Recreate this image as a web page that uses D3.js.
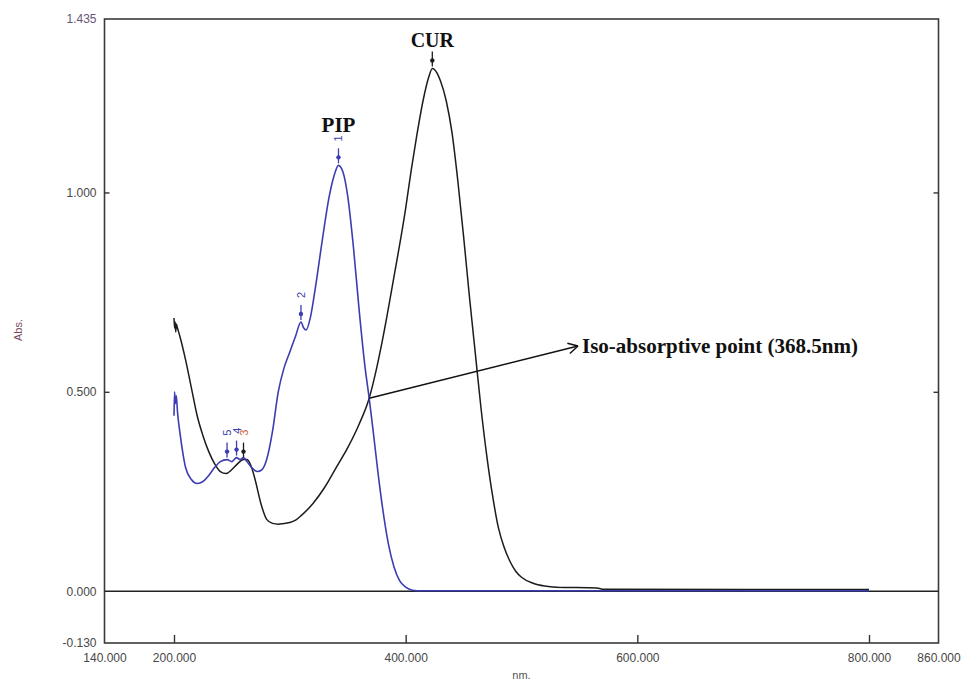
<!DOCTYPE html>
<html>
<head>
<meta charset="utf-8">
<script src="https://cdn.jsdelivr.net/npm/d3@7"></script>
<style>
  body { margin: 0; background: #fff; }
  svg { display: block; }
</style>
</head>
<body>
<svg id="chart" width="961" height="680"></svg>
<script>
// --- data ---
const curNm = [200, 200.5, 201, 201.5, 202, 203, 205, 210, 215, 220, 225, 230, 235, 240, 245, 250, 255, 260, 263, 267, 270, 275, 280, 285, 290, 295, 300, 305, 310, 320, 330, 340, 350, 360, 368.5, 375, 380, 390, 400, 405, 410, 415, 420, 423, 427, 430, 435, 440, 445, 450, 455, 460, 465, 470, 475, 480, 485, 490, 495, 500, 510, 520, 530, 565, 570, 800];
const curAbs = [0.685, 0.66, 0.675, 0.65, 0.67, 0.66, 0.64, 0.58, 0.51, 0.44, 0.39, 0.35, 0.32, 0.30, 0.295, 0.305, 0.32, 0.33, 0.33, 0.31, 0.28, 0.22, 0.18, 0.17, 0.168, 0.17, 0.172, 0.178, 0.19, 0.22, 0.26, 0.31, 0.36, 0.42, 0.484, 0.56, 0.63, 0.79, 0.96, 1.06, 1.15, 1.23, 1.29, 1.311, 1.30, 1.28, 1.23, 1.15, 1.03, 0.89, 0.74, 0.60, 0.46, 0.34, 0.24, 0.16, 0.11, 0.075, 0.05, 0.035, 0.02, 0.013, 0.01, 0.008, 0.005, 0.004];

const pipNm = [200, 200.5, 201, 202, 203, 205, 208, 210, 215, 220, 225, 230, 235, 240, 245.8, 250, 254, 257, 260, 263, 267, 272, 276, 280, 285, 290, 295, 300, 305, 309.6, 312, 314, 318, 322, 328, 334, 338, 342, 346, 350, 355, 360, 365, 368.5, 372, 376, 380, 385, 390, 395, 400, 405, 410, 800];
const pipAbs = [0.44, 0.50, 0.47, 0.49, 0.45, 0.40, 0.34, 0.31, 0.28, 0.27, 0.275, 0.29, 0.31, 0.325, 0.33, 0.325, 0.335, 0.33, 0.335, 0.325, 0.31, 0.30, 0.305, 0.33, 0.40, 0.50, 0.56, 0.60, 0.64, 0.675, 0.66, 0.655, 0.69, 0.76, 0.88, 0.99, 1.04, 1.068, 1.05, 0.99, 0.86, 0.70, 0.56, 0.484, 0.40, 0.30, 0.21, 0.12, 0.06, 0.025, 0.01, 0.003, 0.001, 0.001];

// peak picks: series, wavelength, label
const peakSeries = ['pip', 'pip', 'pip', 'pip', 'cur', 'cur'];
const peakNm = [342, 309.6, 254, 245.8, 260, 423];
const peakLabel = ['1', '2', '4', '5', '3', ''];

const xLabelTicks = [140, 200, 400, 600, 800, 860];
const xMarkTicks = [200, 400, 600, 800];
const yLabelTicks = [-0.13, 0, 0.5, 1.0, 1.435];
const yMarkTicks = [0.5, 1.0];

const isoNm = 368.5;
const isoAbs = 0.484;
const isoText = 'Iso-absorptive point (368.5nm)';

// --- layout ---
const svg = d3.select('#chart');
const mLeft = 104.5, mRight = 938.5, mTop = 19, mBottom = 643;

const x = d3.scaleLinear().domain([140, 860]).range([mLeft, mRight]);
const y = d3.scaleLinear().domain([-0.13, 1.435]).range([mBottom, mTop]);

const colCur = '#1c1c1c';
const colPip = '#3d3db3';

// instrument style numbers: 3 decimals, plain hyphen for minus
const fmt3 = (d) => d.toFixed(3);

// frame
svg.append('rect')
  .attr('x', mLeft).attr('y', mTop)
  .attr('width', mRight - mLeft).attr('height', mBottom - mTop)
  .attr('fill', 'none').attr('stroke', '#3a3a3a').attr('stroke-width', 1.6);

// tick marks (inward)
svg.append('g')
  .attr('transform', `translate(0,${mBottom})`)
  .call(d3.axisBottom(x).tickValues(xMarkTicks).tickSize(-8).tickFormat(''))
  .call((g) => g.select('.domain').remove())
  .call((g) => g.selectAll('line').attr('stroke', '#333').attr('stroke-width', 1.4));

svg.append('g')
  .attr('transform', `translate(${mLeft},0)`)
  .call(d3.axisLeft(y).tickValues(yMarkTicks).tickSize(-5).tickFormat(''))
  .call((g) => g.select('.domain').remove())
  .call((g) => g.selectAll('line').attr('stroke', '#333').attr('stroke-width', 1.4));

svg.append('g')
  .attr('transform', `translate(${mRight},0)`)
  .call(d3.axisRight(y).tickValues(yMarkTicks).tickSize(-5).tickFormat(''))
  .call((g) => g.select('.domain').remove())
  .call((g) => g.selectAll('line').attr('stroke', '#333').attr('stroke-width', 1.4));

// tick labels
svg.append('g')
  .attr('transform', `translate(0,${mBottom + 7})`)
  .call(d3.axisBottom(x).tickValues(xLabelTicks).tickSize(0).tickFormat(fmt3))
  .call((g) => g.select('.domain').remove())
  .call((g) => g.selectAll('text')
    .attr('font-family', 'Liberation Sans, Arial, sans-serif')
    .attr('font-size', 12).attr('fill', '#474747'));

svg.append('g')
  .attr('transform', `translate(${mLeft - 5},0)`)
  .call(d3.axisLeft(y).tickValues(yLabelTicks).tickSize(0).tickFormat(fmt3))
  .call((g) => g.select('.domain').remove())
  .call((g) => g.selectAll('text')
    .attr('font-family', 'Liberation Sans, Arial, sans-serif')
    .attr('font-size', 12)
    .attr('fill', (d) => (d === 1.435 ? '#6a5478' : '#474747')));

// axis titles
svg.append('text')
  .attr('x', (mLeft + mRight) / 2).attr('y', 679)
  .attr('text-anchor', 'middle')
  .attr('font-family', 'Liberation Sans, Arial, sans-serif')
  .attr('font-size', 11).attr('fill', '#555')
  .text('nm.');

svg.append('text')
  .attr('transform', 'translate(22,330) rotate(-90)')
  .attr('text-anchor', 'middle')
  .attr('font-family', 'Liberation Sans, Arial, sans-serif')
  .attr('font-size', 11).attr('fill', '#7a4b5e')
  .text('Abs.');

// zero baseline
svg.append('line')
  .attr('x1', mLeft).attr('x2', mRight)
  .attr('y1', y(0)).attr('y2', y(0))
  .attr('stroke', '#222').attr('stroke-width', 1.5);

// spectra
const line = d3.line()
  .x((d) => x(d[0]))
  .y((d) => y(d[1]))
  .curve(d3.curveMonotoneX);

const curData = d3.zip(curNm, curAbs);
const pipData = d3.zip(pipNm, pipAbs);

svg.append('path').datum(curData)
  .attr('d', line).attr('fill', 'none')
  .attr('stroke', colCur).attr('stroke-width', 1.5);

svg.append('path').datum(pipData)
  .attr('d', line).attr('fill', 'none')
  .attr('stroke', colPip).attr('stroke-width', 1.6);

// peak markers
function valueAt(nms, abs, nm) {
  const i = d3.bisectLeft(nms, nm);
  if (i <= 0) return abs[0];
  if (i >= nms.length) return abs[abs.length - 1];
  const t = (nm - nms[i - 1]) / (nms[i] - nms[i - 1]);
  return abs[i - 1] + t * (abs[i] - abs[i - 1]);
}

peakNm.forEach((nm, i) => {
  const isPip = peakSeries[i] === 'pip';
  const a = isPip ? valueAt(pipNm, pipAbs, nm) : valueAt(curNm, curAbs, nm);
  const px = x(nm), py = y(a);
  const c = isPip ? colPip : colCur;
  const g = svg.append('g');
  g.append('line')
    .attr('x1', px).attr('x2', px)
    .attr('y1', py - 2).attr('y2', py - 17)
    .attr('stroke', c).attr('stroke-width', 1.3);
  g.append('circle')
    .attr('cx', px).attr('cy', py - 8).attr('r', 2.2)
    .attr('fill', c);
  if (peakLabel[i]) {
    g.append('text')
      .attr('transform', `translate(${px + 4},${py - 27}) rotate(-90)`)
      .attr('text-anchor', 'middle')
      .attr('font-family', 'Liberation Sans, Arial, sans-serif')
      .attr('font-size', 11)
      .attr('fill', isPip ? colPip : '#c8643c')
      .text(peakLabel[i]);
  }
});

// compound labels
svg.append('text')
  .attr('x', x(342)).attr('y', 132)
  .attr('text-anchor', 'middle')
  .attr('font-family', 'Liberation Serif, Times New Roman, serif')
  .attr('font-weight', 'bold').attr('font-size', 21).attr('fill', '#111')
  .text('PIP');

svg.append('text')
  .attr('x', x(423)).attr('y', 47)
  .attr('text-anchor', 'middle')
  .attr('font-family', 'Liberation Serif, Times New Roman, serif')
  .attr('font-weight', 'bold').attr('font-size', 20).attr('fill', '#111')
  .text('CUR');

// iso-absorptive annotation
const ax0 = x(isoNm), ay0 = y(isoAbs);
const ax1 = 578, ay1 = 346;
svg.append('line')
  .attr('x1', ax0).attr('y1', ay0).attr('x2', ax1).attr('y2', ay1)
  .attr('stroke', '#111').attr('stroke-width', 1.5);
const ang = Math.atan2(ay1 - ay0, ax1 - ax0);
[0.5, -0.5].forEach((d) => {
  svg.append('line')
    .attr('x1', ax1).attr('y1', ay1)
    .attr('x2', ax1 - 11 * Math.cos(ang + d)).attr('y2', ay1 - 11 * Math.sin(ang + d))
    .attr('stroke', '#111').attr('stroke-width', 1.5);
});

svg.append('text')
  .attr('x', 582).attr('y', 353)
  .attr('font-family', 'Liberation Serif, Times New Roman, serif')
  .attr('font-weight', 'bold').attr('font-size', 21).attr('fill', '#111')
  .text(isoText);
</script>
</body>
</html>
